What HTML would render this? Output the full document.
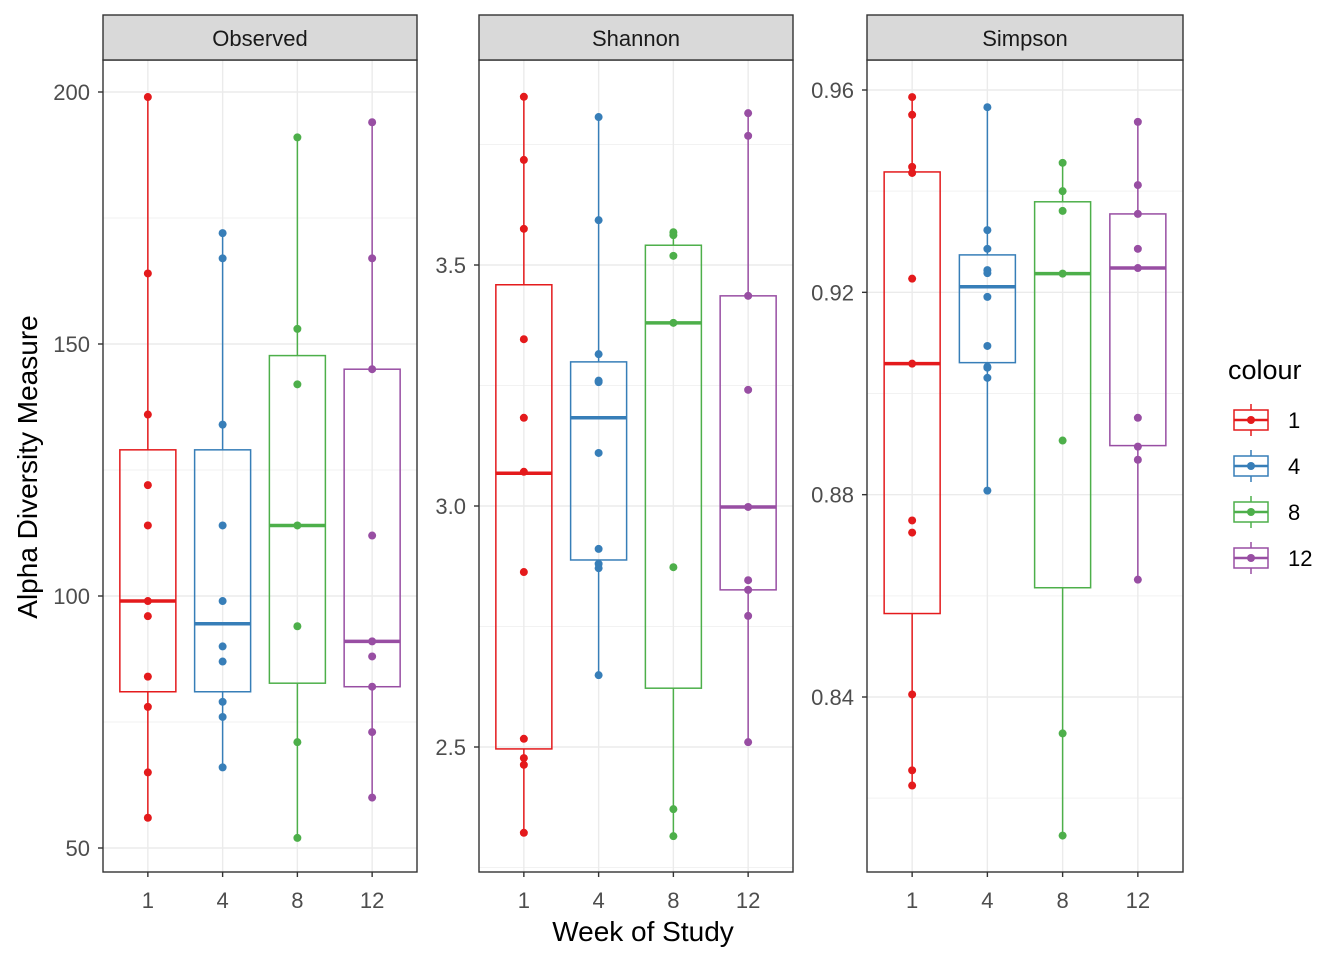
<!DOCTYPE html>
<html><head><meta charset="utf-8"><style>
body{margin:0;background:#fff;}
svg{display:block;font-family:"Liberation Sans",Arial,sans-serif;}
</style></head><body>
<svg id="chart" width="1344" height="960"></svg>
<script>
const weeks=["1","4","8","12"];
const colors=["#e41a1c","#377eb8","#4daf4a","#984ea3"];
const panelNames=["Observed","Shannon","Simpson"];
const obsPoints=[[199,164,136,122,114,99,96,84,78,65,56],[172,167,134,114,99,90,87,79,76,66],[191,153,142,114,94,71,52],[194,167,145,112,91,88,82,73,60]];
const obsBoxes=[[56,81,99,129,199],[66,81,94.5,129,172],[52,82.7,114,147.7,191],[60,82,91,145,194]];
const shaPoints=[[3.849,3.718,3.575,3.346,3.183,3.071,2.863,2.517,2.477,2.463,2.322],[3.807,3.593,3.315,3.26,3.257,3.11,2.911,2.88,2.871,2.649],[3.568,3.562,3.519,3.38,2.873,2.371,2.315],[3.815,3.768,3.436,3.241,2.998,2.846,2.826,2.772,2.51]];
const shaBoxes=[[2.322,2.496,3.068,3.459,3.849],[2.649,2.888,3.183,3.299,3.807],[2.315,2.622,3.38,3.541,3.568],[2.51,2.826,2.998,3.436,3.815]];
const simPoints=[[.9586,.9551,.9448,.9436,.9227,.9059,.8749,.8725,.8405,.8255,.8225],[.9566,.9323,.9286,.9244,.9238,.9191,.9094,.9053,.9051,.9031,.8808],[.9456,.94,.9361,.9237,.8907,.8328,.8126],[.9537,.9412,.9355,.9286,.9248,.8952,.8895,.8869,.8632]];
const simBoxes=[[.8225,.8565,.9059,.9438,.9586],[.8808,.9061,.9211,.9274,.9566],[.8126,.8616,.9237,.9379,.9456],[.8632,.8897,.9248,.9355,.9537]];
const obsTicks=[50,100,150,200], obsMinor=[75,125,175];
const shaTicks=[2.5,3.0,3.5], shaMinor=[2.25,2.75,3.25,3.75];
const simTicks=[0.84,0.88,0.92,0.96], simMinor=[0.82,0.86,0.90,0.94];
const obsLabels=["50","100","150","200"], shaLabels=["2.5","3.0","3.5"], simLabels=["0.84","0.88","0.92","0.96"];

const NS="http://www.w3.org/2000/svg";
const svg=document.getElementById('chart');
function mk(tag,attrs,parent){const e=document.createElementNS(NS,tag);for(const k in attrs)e.setAttribute(k,attrs[k]);(parent||svg).appendChild(e);return e;}
const panels=[
 {x0:103,x1:417,pts:obsPoints,boxes:obsBoxes,ticks:obsTicks,minor:obsMinor,labels:obsLabels,v0:50,y0:848,v1:200,y1:92},
 {x0:479,x1:793,pts:shaPoints,boxes:shaBoxes,ticks:shaTicks,minor:shaMinor,labels:shaLabels,v0:2.5,y0:747,v1:3.5,y1:265},
 {x0:867,x1:1183,pts:simPoints,boxes:simBoxes,ticks:simTicks,minor:simMinor,labels:simLabels,v0:0.84,y0:697,v1:0.96,y1:90}
];
const PT=60,PB=872;
panels.forEach((p,pi)=>{
 const y=v=>p.y0+(v-p.v0)*(p.y1-p.y0)/(p.v1-p.v0);
 const step=(p.x1-p.x0)/4.2;
 const x=i=>p.x0+step*(0.6+i);
 const g=mk('g',{});
 
 
 p.minor.forEach(v=>{const yy=y(v);if(yy>PT&&yy<PB)mk('line',{x1:p.x0,x2:p.x1,y1:yy,y2:yy,stroke:'#f2f2f2','stroke-width':1},g);});
 p.ticks.forEach(v=>mk('line',{x1:p.x0,x2:p.x1,y1:y(v),y2:y(v),stroke:'#ebebeb','stroke-width':1.4},g));
 weeks.forEach((w,i)=>mk('line',{x1:x(i),x2:x(i),y1:PT,y2:PB,stroke:'#ebebeb','stroke-width':1.4},g));
 p.boxes.forEach((b,i)=>{
  const c=colors[i],cx=x(i),hw=28;
  const bg=mk('g',{},g);
  
  
  mk('line',{x1:cx,x2:cx,y1:y(b[0]),y2:y(b[1]),stroke:c,'stroke-width':1.5},bg);
  mk('line',{x1:cx,x2:cx,y1:y(b[3]),y2:y(b[4]),stroke:c,'stroke-width':1.5},bg);
  mk('rect',{x:cx-hw,y:y(b[3]),width:2*hw,height:y(b[1])-y(b[3]),fill:'none',stroke:c,'stroke-width':1.5},bg);
  mk('line',{x1:cx-hw,x2:cx+hw,y1:y(b[2]),y2:y(b[2]),stroke:c,'stroke-width':3.5},bg);
  p.pts[i].forEach(v=>{const d=mk('circle',{cx:cx,cy:y(v),r:4,fill:c},bg);
   
   });
 });
 mk('rect',{x:p.x0,y:PT,width:p.x1-p.x0,height:PB-PT,fill:'none',stroke:'#333','stroke-width':1.4},g);
 const s=mk('rect',{x:p.x0,y:15,width:p.x1-p.x0,height:45,fill:'#d9d9d9',stroke:'#333','stroke-width':1.4},g);
 
 
 const st=mk('text',{x:(p.x0+p.x1)/2,y:46,'text-anchor':'middle','font-size':22,fill:'#1a1a1a'},g);st.textContent=panelNames[pi];
 
 
 p.ticks.forEach((v,k)=>{
  mk('line',{x1:p.x0-5,x2:p.x0,y1:y(v),y2:y(v),stroke:'#333','stroke-width':1.4},g);
  const t=mk('text',{x:p.x0-13,y:y(v)+8,'text-anchor':'end','font-size':22,fill:'#4d4d4d'},g);t.textContent=p.labels[k];
  
  
 });
 weeks.forEach((w,i)=>{
  mk('line',{x1:x(i),x2:x(i),y1:PB,y2:PB+5,stroke:'#333','stroke-width':1.4},g);
  const t=mk('text',{x:x(i),y:908,'text-anchor':'middle','font-size':22,fill:'#4d4d4d'},g);t.textContent=w;
  
  
 });
});
const yt=mk('text',{x:0,y:0,transform:'translate(37,467) rotate(-90)','text-anchor':'middle','font-size':28,fill:'#000'});yt.textContent='Alpha Diversity Measure';


const xt=mk('text',{x:643,y:941,'text-anchor':'middle','font-size':28,fill:'#000'});xt.textContent='Week of Study';


const lg=mk('g',{});


const lt=mk('text',{x:1228,y:379,'font-size':27,fill:'#000'},lg);lt.textContent='colour';
weeks.forEach((w,i)=>{
 const cy=420+i*46,c=colors[i];
 const e=mk('g',{},lg);
 
 
 mk('line',{x1:1251,x2:1251,y1:cy-16,y2:cy+16,stroke:c,'stroke-width':1.5},e);
 mk('rect',{x:1234,y:cy-10,width:34,height:20,fill:'#fff',stroke:c,'stroke-width':1.5},e);
 mk('line',{x1:1234,x2:1268,y1:cy,y2:cy,stroke:c,'stroke-width':2.5},e);
 mk('circle',{cx:1251,cy:cy,r:4,fill:c},e);
 const t=mk('text',{x:1288,y:cy+8,'font-size':22,fill:'#000'},e);t.textContent=w;
});
</script>
</body></html>
